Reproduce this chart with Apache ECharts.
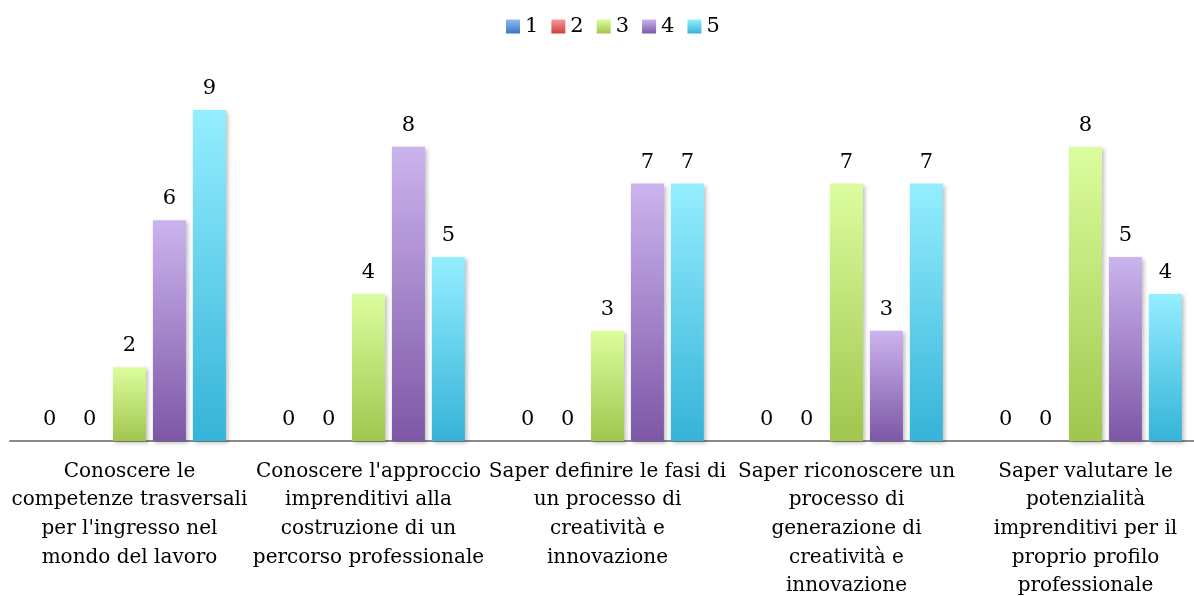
<!DOCTYPE html>
<html>
<head>
<meta charset="utf-8">
<script src="https://cdn.jsdelivr.net/npm/echarts@6/dist/echarts.min.js"></script>
<style>
  html, body { margin: 0; padding: 0; background: #ffffff; }
  #chart { width: 1194px; height: 596px; }
</style>
</head>
<body>
<div id="chart"></div>
<script>
// Skill categories (line breaks as shown under the axis)
const categories = [
  "Conoscere le\ncompetenze trasversali\nper l'ingresso nel\nmondo del lavoro",
  "Conoscere l'approccio\nimprenditivi alla\ncostruzione di un\npercorso professionale",
  "Saper definire le fasi di\nun processo di\ncreatività e\ninnovazione",
  "Saper riconoscere un\nprocesso di\ngenerazione di\ncreatività e\ninnovazione",
  "Saper valutare le\npotenzialità\nimprenditivi per il\nproprio profilo\nprofessionale"
];

// Rating levels 1–5 and how many answers each got per category
const seriesNames = ["1", "2", "3", "4", "5"];
const rating1 = [0, 0, 0, 0, 0];
const rating2 = [0, 0, 0, 0, 0];
const rating3 = [2, 4, 3, 7, 8];
const rating4 = [6, 8, 7, 3, 5];
const rating5 = [9, 5, 7, 7, 4];
const seriesValues = [rating1, rating2, rating3, rating4, rating5];

// Top/bottom gradient stops for each rating
const gradientStops = [
  ["#92bbf2", "#3a75c4"],
  ["#f59a98", "#d23f3c"],
  ["#dcfd9e", "#a0c64e"],
  ["#cbb4ee", "#7d57a6"],
  ["#95eeff", "#35b3d8"]
];

const FONT = "DejaVu Serif";

function grad(i) {
  return new echarts.graphic.LinearGradient(0, 0, 0, 1, [
    { offset: 0, color: gradientStops[i][0] },
    { offset: 1, color: gradientStops[i][1] }
  ]);
}

const chart = echarts.init(document.getElementById('chart'), null, { renderer: 'canvas' });

chart.setOption({
  animation: false,
  backgroundColor: '#ffffff',
  textStyle: { fontFamily: FONT },
  legend: {
    top: 11,
    left: 501,
    itemWidth: 14,
    itemHeight: 14,
    itemGap: 13,
    icon: 'rect',
    textStyle: { fontFamily: FONT, fontSize: 21, color: '#000' },
    data: seriesNames
  },
  grid: {
    left: 10,
    width: 1195,
    top: 110,
    bottom: 155,
    containLabel: false,
    outerBoundsMode: 'none'
  },
  xAxis: {
    type: 'category',
    data: categories,
    axisLine: { lineStyle: { color: '#8a8a8a', width: 2 } },
    axisTick: { show: false },
    axisLabel: {
      interval: 0,
      margin: 16,
      fontFamily: FONT,
      fontSize: 20,
      lineHeight: 28.7,
      color: '#000',
      align: 'center'
    }
  },
  yAxis: {
    type: 'value',
    min: 0,
    max: 9,
    show: false,
    splitLine: { show: false }
  },
  series: seriesNames.map((name, i) => ({
    name: name,
    type: 'bar',
    data: seriesValues[i],
    barWidth: 33,
    barGap: '21%',
    itemStyle: {
      color: grad(i),
      shadowColor: 'rgba(0,0,0,0.25)',
      shadowBlur: 4,
      shadowOffsetX: 2,
      shadowOffsetY: 2
    },
    label: {
      show: true,
      position: 'top',
      distance: 11,
      fontFamily: FONT,
      fontSize: 21,
      color: '#000'
    }
  }))
});
</script>
</body>
</html>
